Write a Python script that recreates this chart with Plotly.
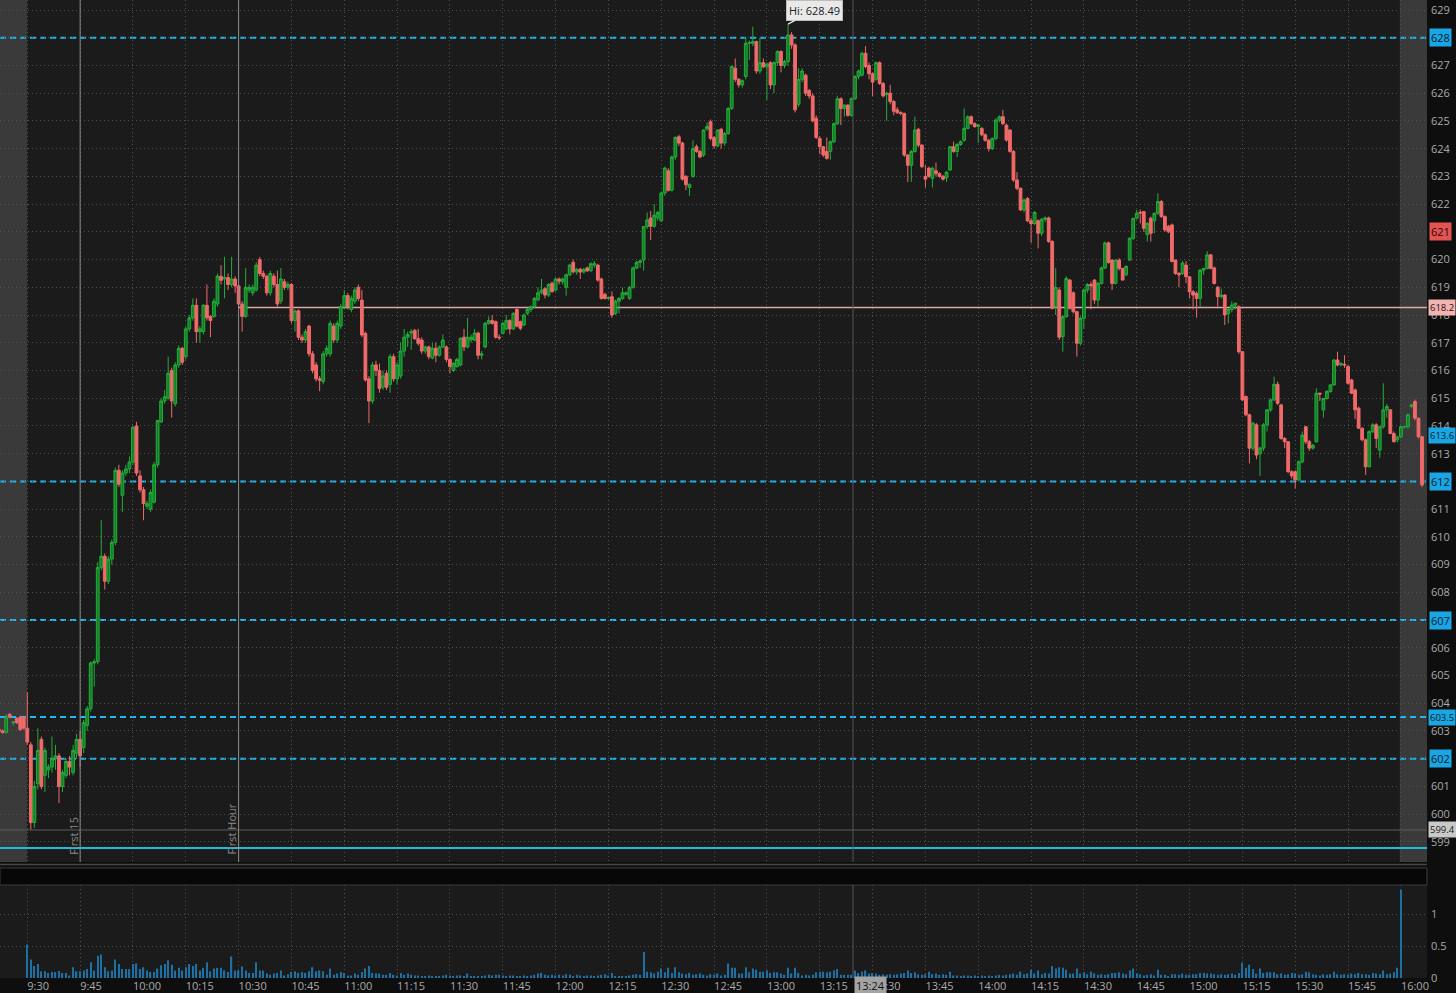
import plotly.graph_objects as go

W, H = 1456, 993

# ---------------- DATA (1-minute bars: open, high, low, close) ----------------
bars_pre = [  # 9:22 - 9:29 (extended hours)
    (603.05, 603.10, 602.95, 603.00), (603.00, 603.05, 602.90, 602.95),
    (602.95, 603.60, 602.90, 603.50), (603.60, 603.65, 603.45, 603.50),
    (603.30, 603.35, 603.20, 603.32), (603.45, 603.50, 603.25, 603.30),
    (603.50, 603.55, 603.00, 603.05), (603.50, 603.55, 603.05, 603.10),
]
bars_0930 = [
    (603.1, 604.4, 602.5, 602.6), (602.5, 602.6, 599.45, 599.7), (599.7, 601.2, 599.5, 601.0),
    (601.1, 603.1, 600.9, 602.3), (602.7, 602.8, 600.9, 601.0), (601.4, 602.4, 600.8, 602.3),
    (601.6, 601.8, 601.3, 601.7), (601.7, 602.8, 601.5, 602.0), (602.0, 602.5, 601.6, 602.1),
    (602.1, 602.2, 600.4, 601.0), (601.0, 601.6, 600.8, 601.5), (601.4, 602.0, 601.3, 601.9),
    (601.9, 602.1, 601.4, 601.7), (601.5, 602.5, 601.4, 602.3), (602.2, 602.9, 602.0, 602.7),
    (602.7, 603.0, 601.7, 602.1), (602.4, 603.4, 602.2, 603.3), (603.2, 603.9, 603.0, 603.8),
    (603.8, 605.5, 603.7, 605.45), (605.45, 605.6, 604.6, 605.5), (605.5, 609.1, 605.4, 608.9),
    (608.9, 610.6, 608.8, 609.3), (609.3, 609.4, 608.1, 608.4), (608.4, 609.3, 608.3, 609.2),
    (609.2, 609.9, 609.0, 609.8), (609.8, 612.5, 609.7, 612.4), (612.4, 612.6, 611.8, 611.9),
    (611.5, 612.4, 610.9, 612.3), (612.3, 612.6, 612.2, 612.45), (612.45, 612.9, 612.3, 612.7),
    (612.7, 614.0, 612.6, 613.95), (614.0, 614.15, 612.2, 612.3), (612.2, 612.4, 611.6, 611.7),
    (611.7, 611.8, 610.6, 611.2), (611.1, 611.3, 611.0, 611.2), (611.0, 611.7, 610.9, 611.6),
    (611.25, 612.7, 611.2, 612.6), (612.6, 614.2, 612.5, 614.2), (614.15, 615.0, 614.1, 614.9),
    (614.9, 615.3, 614.8, 615.05), (615.0, 616.5, 614.95, 615.9), (616.0, 616.1, 614.3, 614.9),
    (614.8, 616.3, 614.7, 616.2), (616.2, 616.9, 616.1, 616.8), (616.8, 616.85, 616.2, 616.3),
    (616.5, 617.6, 616.4, 617.5), (617.5, 618.0, 617.4, 617.9), (617.9, 618.6, 617.8, 618.35),
    (618.35, 618.6, 617.0, 617.4), (617.4, 617.6, 617.0, 617.5), (617.4, 618.4, 617.3, 618.35),
    (618.35, 619.1, 617.8, 617.9), (617.95, 618.0, 617.2, 617.8), (617.95, 618.6, 617.9, 618.5),
    (618.4, 619.5, 618.3, 619.4), (619.4, 619.8, 619.1, 619.25), (619.3, 620.1, 618.6, 619.35),
    (619.35, 619.5, 618.9, 619.1), (619.1, 620.1, 619.0, 619.3), (619.3, 619.4, 618.8, 619.05),
]
bars_1030 = [
    (619.05, 619.1, 618.3, 618.4), (618.4, 618.5, 617.4, 617.95), (617.95, 619.7, 617.9, 619.0),
    (618.9, 619.1, 618.8, 619.0), (618.8, 619.1, 618.7, 619.0), (618.9, 619.9, 618.85, 619.8),
    (620.0, 620.1, 619.4, 619.5), (619.5, 619.6, 619.3, 619.4), (619.4, 619.45, 618.7, 618.8),
    (618.8, 619.6, 618.7, 619.5), (619.4, 619.5, 619.0, 619.1), (619.1, 619.6, 618.3, 618.4),
    (618.5, 619.7, 618.4, 619.3), (619.2, 619.3, 618.9, 619.0), (619.0, 619.2, 618.9, 619.1),
    (619.1, 619.15, 617.7, 617.8), (617.8, 618.2, 617.4, 618.15), (618.15, 618.2, 617.1, 617.2),
    (617.2, 617.3, 617.0, 617.1), (617.1, 617.5, 617.0, 617.4), (617.6, 617.65, 616.5, 616.6),
    (616.6, 616.7, 615.9, 616.0), (616.2, 616.3, 615.6, 615.7), (615.7, 615.8, 615.25, 615.65),
    (615.6, 616.7, 615.5, 616.6), (616.6, 616.9, 616.5, 616.8), (616.6, 617.8, 616.5, 617.7),
    (617.6, 617.7, 617.0, 617.1), (617.1, 617.8, 617.0, 617.7), (617.6, 618.4, 617.5, 618.3),
    (618.3, 618.9, 618.2, 618.7), (618.7, 618.8, 618.2, 618.3), (618.2, 618.7, 618.1, 618.6),
    (618.5, 619.0, 618.4, 618.9), (619.0, 619.1, 618.5, 618.6), (618.54, 618.9, 617.2, 617.28),
    (617.34, 617.4, 615.6, 615.66), (615.7, 615.8, 614.1, 614.9), (614.9, 616.3, 614.8, 616.2),
    (616.2, 616.35, 615.8, 616.0), (616.0, 616.25, 615.2, 615.35), (615.4, 616.0, 615.3, 615.8),
    (615.9, 616.0, 615.3, 615.4), (615.5, 616.6, 615.2, 616.5), (616.5, 616.6, 615.6, 615.7),
    (615.7, 616.3, 615.5, 616.2), (615.8, 617.0, 615.7, 616.7), (616.7, 617.5, 616.5, 617.2),
    (617.2, 617.4, 616.85, 617.3), (617.35, 617.5, 616.75, 617.4), (617.45, 617.5, 617.1, 617.15),
    (617.15, 617.5, 616.9, 616.98), (617.1, 617.2, 616.6, 616.7), (616.7, 616.9, 616.6, 616.85),
    (616.85, 616.9, 616.4, 616.5), (616.45, 617.0, 616.4, 616.8), (616.8, 617.0, 616.3, 616.55),
    (616.55, 616.9, 616.5, 616.85), (616.85, 617.3, 616.8, 617.1), (616.85, 616.9, 616.3, 616.4),
]
bars_1130 = [
    (616.4, 616.45, 615.9, 616.14), (616.0, 616.3, 615.95, 616.26), (616.14, 616.45, 616.1, 616.4),
    (616.2, 617.2, 616.15, 617.16), (617.2, 617.5, 616.7, 616.85), (616.85, 617.9, 616.8, 617.2),
    (617.1, 617.3, 617.0, 617.2), (617.1, 617.5, 617.05, 617.35), (617.35, 617.4, 616.4, 616.55),
    (616.55, 616.7, 616.4, 616.6), (616.85, 617.75, 616.8, 617.7), (617.7, 617.95, 617.65, 617.8),
    (617.8, 618.0, 617.65, 617.7), (617.76, 617.8, 617.15, 617.2), (617.2, 617.3, 617.1, 617.18),
    (617.34, 617.75, 617.3, 617.7), (617.5, 618.0, 617.45, 617.8), (617.8, 617.85, 617.3, 617.5),
    (617.5, 618.1, 617.45, 618.06), (618.2, 618.3, 617.55, 617.6), (617.76, 617.8, 617.45, 617.52),
    (617.64, 618.05, 617.6, 618.0), (618.06, 618.25, 618.0, 618.2), (618.2, 618.35, 618.1, 618.3),
    (618.3, 618.65, 618.25, 618.6), (618.55, 619.0, 618.5, 618.8), (618.8, 619.3, 618.75, 618.9),
    (618.95, 619.0, 618.6, 618.72), (618.72, 619.15, 618.65, 619.1), (619.15, 619.2, 618.8, 618.85),
    (618.9, 619.35, 618.85, 619.3), (619.3, 619.35, 619.1, 619.22), (619.2, 619.35, 619.1, 619.3),
    (619.0, 619.5, 618.7, 619.45), (619.45, 619.85, 619.4, 619.8), (619.9, 620.0, 619.5, 619.56),
    (619.55, 619.7, 619.45, 619.65), (619.65, 619.7, 619.3, 619.55), (619.55, 619.7, 619.5, 619.65),
    (619.7, 619.75, 619.55, 619.6), (619.6, 619.9, 619.55, 619.85), (619.8, 619.95, 619.7, 619.85),
    (619.8, 619.85, 619.2, 619.26), (619.3, 619.35, 618.55, 618.6), (618.75, 618.8, 618.55, 618.6),
    (618.6, 618.65, 618.55, 618.63), (618.66, 618.85, 617.9, 618.0), (618.06, 618.55, 618.0, 618.5),
    (618.5, 618.65, 618.05, 618.6), (618.6, 619.0, 618.55, 618.8), (618.75, 618.85, 618.7, 618.8),
    (618.6, 619.05, 618.55, 619.0), (619.0, 619.75, 618.95, 619.7), (619.7, 619.95, 619.65, 619.9),
    (619.9, 620.0, 619.7, 619.95), (619.98, 621.2, 619.6, 621.19), (621.19, 621.7, 621.1, 621.43),
    (621.5, 621.75, 620.7, 621.2), (621.2, 622.0, 621.15, 621.6), (621.5, 621.75, 621.4, 621.7),
]
bars_1230 = [
    (621.4, 622.45, 621.35, 622.4), (622.4, 623.35, 622.3, 623.3), (623.2, 623.3, 622.45, 622.5),
    (622.5, 623.75, 622.45, 623.7), (623.7, 624.45, 623.6, 624.4), (624.43, 624.5, 624.1, 624.2),
    (624.2, 624.25, 622.85, 622.9), (623.0, 623.05, 622.5, 622.7), (622.6, 622.75, 622.3, 622.7),
    (623.0, 624.3, 622.95, 624.0), (624.07, 624.15, 623.85, 623.9), (623.9, 623.95, 623.65, 623.7),
    (623.77, 624.7, 623.7, 624.67), (624.7, 624.95, 624.65, 624.8), (624.97, 625.05, 624.3, 624.37),
    (624.4, 624.45, 624.0, 624.1), (624.1, 624.7, 624.05, 624.67), (624.7, 624.75, 624.0, 624.2),
    (624.2, 624.6, 624.1, 624.55), (624.55, 625.5, 624.5, 625.45), (625.45, 627.0, 625.4, 626.96),
    (626.9, 627.25, 626.4, 626.5), (626.5, 626.55, 626.2, 626.3), (626.3, 626.5, 626.2, 626.45),
    (626.6, 628.0, 626.5, 627.8), (627.8, 627.9, 627.2, 627.82), (627.8, 628.4, 627.7, 627.86),
    (627.86, 627.9, 626.7, 626.8), (626.8, 628.0, 626.7, 627.1), (627.1, 627.25, 626.9, 626.95),
    (626.95, 627.1, 625.75, 627.05), (627.1, 627.15, 626.15, 626.3), (626.3, 627.15, 626.0, 627.1),
    (627.1, 627.55, 627.0, 627.5), (627.5, 627.55, 626.75, 627.0), (627.0, 627.2, 626.9, 627.14),
    (627.14, 628.49, 627.0, 628.1), (628.1, 628.2, 627.6, 627.74), (627.74, 627.8, 625.3, 625.4),
    (625.6, 626.9, 625.5, 626.5), (626.5, 626.9, 626.4, 626.8), (626.65, 626.7, 625.9, 626.0),
    (626.1, 626.15, 625.8, 625.9), (625.9, 626.0, 624.95, 625.0), (625.1, 625.2, 624.35, 624.4),
    (624.37, 624.45, 623.8, 624.07), (624.07, 624.1, 623.7, 623.77), (623.9, 624.4, 623.6, 623.65),
    (623.9, 624.3, 623.6, 624.25), (624.25, 624.95, 624.2, 624.9), (624.9, 625.9, 624.85, 625.8),
    (625.8, 625.85, 624.85, 625.45), (625.45, 625.6, 625.15, 625.57), (625.57, 625.6, 625.15, 625.2),
    (625.2, 625.85, 625.15, 625.8), (625.8, 626.65, 625.75, 626.6), (626.6, 626.85, 626.5, 626.8),
    (626.65, 627.5, 626.6, 627.44), (627.44, 627.7, 626.9, 626.96), (627.0, 627.1, 626.5, 626.7),
]
bars_1330 = [
    (626.7, 626.75, 625.9, 626.4), (626.5, 627.15, 626.45, 627.1), (627.1, 627.15, 626.3, 626.35),
    (626.35, 626.4, 625.85, 625.9), (625.95, 626.05, 625.0, 626.0), (626.0, 626.3, 625.6, 625.7),
    (625.7, 625.75, 625.2, 625.35), (625.4, 625.5, 625.25, 625.3), (625.3, 625.35, 625.2, 625.27),
    (625.27, 625.3, 623.7, 623.77), (623.77, 623.8, 622.8, 623.4), (623.4, 623.95, 622.8, 623.9),
    (623.9, 625.15, 623.85, 624.67), (624.7, 624.75, 624.05, 624.13), (624.13, 624.15, 623.3, 623.35),
    (623.0, 623.4, 622.6, 622.9), (623.3, 623.35, 622.95, 623.0), (622.93, 623.35, 622.6, 623.29),
    (623.2, 623.5, 623.0, 623.1), (623.1, 623.15, 622.95, 623.0), (623.0, 623.05, 622.85, 622.9),
    (622.95, 623.2, 622.8, 623.15), (623.23, 624.1, 623.2, 624.07), (624.07, 624.25, 623.85, 623.9),
    (623.9, 624.2, 623.7, 624.15), (624.15, 624.3, 624.1, 624.25), (624.3, 625.45, 624.25, 624.73),
    (624.73, 625.2, 624.7, 625.15), (625.15, 625.2, 624.85, 624.9), (624.9, 624.95, 624.75, 624.8),
    (624.8, 624.85, 624.2, 624.86), (624.73, 624.78, 624.45, 624.5), (624.5, 624.55, 624.25, 624.3),
    (624.3, 624.35, 623.9, 624.0), (624.0, 624.4, 623.95, 624.37), (624.37, 625.1, 624.3, 625.03),
    (625.03, 625.2, 624.95, 625.15), (625.15, 625.4, 624.85, 624.9), (624.85, 624.9, 624.25, 624.31),
    (624.67, 624.7, 623.85, 623.9), (623.9, 623.95, 622.8, 622.87), (622.87, 623.15, 622.5, 622.57),
    (622.57, 622.6, 621.75, 621.79), (621.79, 622.2, 621.7, 622.15), (622.2, 622.25, 621.35, 621.4),
    (621.4, 621.5, 620.6, 621.3), (621.3, 621.75, 621.25, 621.7), (621.4, 621.45, 620.4, 620.95),
    (620.95, 621.5, 620.85, 621.45), (621.45, 621.55, 621.35, 621.5), (621.5, 621.55, 620.6, 620.65),
    (620.65, 620.7, 618.2, 618.24), (618.3, 619.7, 618.0, 619.0), (618.9, 619.0, 617.1, 617.2),
    (617.22, 618.0, 616.68, 617.94), (617.94, 619.4, 617.9, 619.32), (619.26, 619.3, 618.2, 618.24),
    (618.8, 618.85, 618.05, 618.12), (618.12, 618.15, 616.5, 616.98), (616.98, 617.95, 616.9, 617.88),
]
bars_1430 = [
    (617.88, 618.95, 617.5, 618.9), (618.9, 619.15, 618.8, 619.1), (619.1, 619.2, 618.2, 619.05),
    (619.26, 619.3, 618.4, 618.54), (618.54, 619.2, 618.3, 619.14), (619.14, 619.75, 619.1, 619.7),
    (619.7, 620.65, 619.65, 620.6), (620.6, 620.65, 619.85, 619.9), (619.98, 620.0, 618.9, 619.14),
    (619.14, 620.0, 619.1, 619.98), (619.98, 620.05, 619.6, 619.68), (619.68, 619.7, 619.25, 619.26),
    (619.45, 619.8, 619.4, 619.75), (619.98, 620.8, 619.95, 620.77), (620.77, 621.5, 620.7, 621.49),
    (621.49, 621.79, 621.45, 621.67), (621.7, 621.8, 621.3, 621.68), (621.73, 621.75, 621.0, 621.13),
    (620.9, 621.35, 620.65, 621.3), (621.49, 621.55, 620.65, 620.95), (621.4, 621.7, 620.95, 621.67),
    (621.67, 622.39, 621.6, 622.09), (622.09, 622.15, 621.5, 621.55), (621.55, 621.6, 621.0, 621.07),
    (621.2, 621.25, 620.95, 621.0), (621.25, 621.3, 619.9, 619.93), (619.98, 620.0, 619.45, 619.5),
    (619.5, 619.55, 619.0, 619.45), (619.5, 619.95, 619.45, 619.87), (619.8, 619.95, 619.15, 619.38),
    (619.38, 619.4, 618.6, 618.84), (618.84, 618.9, 618.2, 618.72), (618.78, 618.85, 617.9, 618.6),
    (618.6, 619.65, 618.3, 619.62), (619.62, 619.7, 619.45, 619.68), (619.68, 620.3, 619.65, 620.17),
    (620.17, 620.2, 619.65, 619.68), (619.7, 619.75, 619.1, 619.14), (619.0, 619.05, 618.3, 618.66),
    (618.66, 618.95, 618.6, 618.72), (618.72, 618.75, 617.64, 618.0), (618.05, 618.25, 617.7, 618.2),
    (618.2, 618.5, 618.1, 618.36), (618.36, 618.45, 618.2, 618.42), (618.3, 618.35, 616.6, 616.68),
    (616.68, 616.7, 614.9, 614.94), (615.06, 615.1, 614.35, 614.4), (614.4, 614.45, 612.65, 613.2),
    (613.2, 614.15, 613.1, 614.1), (614.04, 614.1, 612.8, 612.95), (613.0, 613.25, 612.2, 613.2),
    (613.2, 614.1, 613.1, 614.04), (614.04, 614.6, 613.8, 614.58), (614.58, 615.0, 614.5, 614.94),
    (614.94, 615.78, 614.9, 615.5), (615.5, 615.6, 614.75, 614.82), (614.76, 614.8, 613.5, 613.55),
    (613.55, 613.6, 613.2, 613.43), (613.43, 613.45, 612.3, 612.35), (612.35, 612.4, 612.1, 612.2),
]
bars_1530 = [
    (612.35, 612.4, 611.75, 612.05), (612.05, 612.75, 612.0, 612.71), (612.71, 613.8, 612.65, 613.67),
    (613.97, 614.0, 613.35, 613.43), (613.43, 613.5, 613.1, 613.2), (613.2, 613.35, 613.15, 613.3),
    (613.43, 615.36, 613.4, 615.18), (615.18, 615.2, 614.9, 615.15), (614.58, 615.0, 614.3, 614.99),
    (614.99, 615.3, 614.95, 615.24), (615.24, 615.5, 615.2, 615.48), (615.48, 616.4, 615.45, 616.38),
    (616.38, 616.68, 616.15, 616.2), (616.2, 616.3, 616.15, 616.25), (616.22, 616.55, 616.1, 616.2),
    (616.14, 616.2, 615.5, 615.54), (615.66, 615.7, 615.15, 615.18), (615.3, 615.35, 614.25, 614.58),
    (614.64, 614.7, 613.9, 613.92), (613.92, 613.95, 613.45, 613.5), (613.5, 613.55, 612.23, 612.53),
    (612.53, 613.85, 612.5, 613.79), (613.79, 614.1, 613.75, 614.04), (614.04, 614.1, 613.2, 613.55),
    (613.13, 614.0, 612.85, 613.97), (613.97, 615.54, 613.9, 614.58), (614.58, 614.8, 614.3, 614.7),
    (614.58, 614.6, 613.7, 613.73), (613.73, 613.8, 613.4, 613.43), (613.5, 613.65, 613.4, 613.6),
]
bars_post = [  # 16:00 - 16:06 (extended hours)
    (613.61, 614.0, 613.55, 613.97), (613.97, 614.0, 613.9, 613.98), (613.97, 614.45, 613.9, 614.4),
    (614.7, 614.8, 614.65, 614.76), (614.88, 614.95, 614.2, 614.28), (614.28, 614.3, 613.55, 613.61),
    (613.61, 613.65, 611.8, 611.87),
]

# volume (millions) per minute, regular session
vol_0930 = [0.53, 0.29, 0.19, 0.22, 0.105, 0.105, 0.08, 0.095, 0.095, 0.11,
            0.08, 0.08, 0.04, 0.17, 0.105, 0.105, 0.12, 0.14, 0.25, 0.12,
            0.35, 0.37, 0.17, 0.105, 0.12, 0.29, 0.22, 0.14, 0.14, 0.14,
            0.22, 0.23, 0.14, 0.17, 0.12, 0.095, 0.095, 0.15, 0.2, 0.22,
            0.28, 0.21, 0.12, 0.16, 0.12, 0.17, 0.22, 0.19, 0.22, 0.12,
            0.16, 0.25, 0.105, 0.15, 0.16, 0.16, 0.12, 0.095, 0.34, 0.12]
vol_1030 = [0.12, 0.18, 0.12, 0.08, 0.08, 0.25, 0.12, 0.12, 0.07, 0.05,
            0.07, 0.08, 0.12, 0.04, 0.06, 0.095, 0.105, 0.08, 0.095, 0.08,
            0.105, 0.17, 0.105, 0.12, 0.105, 0.05, 0.15, 0.05, 0.07, 0.095,
            0.08, 0.04, 0.04, 0.07, 0.05, 0.095, 0.15, 0.19, 0.08, 0.07,
            0.07, 0.05, 0.05, 0.08, 0.05, 0.04, 0.08, 0.05, 0.07, 0.05,
            0.04, 0.04, 0.03, 0.03, 0.04, 0.03, 0.02, 0.03, 0.04, 0.05]
vol_1130 = [0.04, 0.03, 0.04, 0.04, 0.03, 0.07, 0.03, 0.02, 0.03, 0.03,
            0.04, 0.05, 0.04, 0.05, 0.05, 0.04, 0.03, 0.04, 0.04, 0.03,
            0.03, 0.04, 0.03, 0.04, 0.05, 0.07, 0.08, 0.05, 0.04, 0.05,
            0.04, 0.05, 0.04, 0.06, 0.05, 0.03, 0.05, 0.04, 0.03, 0.04,
            0.04, 0.03, 0.04, 0.05, 0.06, 0.04, 0.08, 0.03, 0.03, 0.03,
            0.03, 0.04, 0.05, 0.06, 0.05, 0.41, 0.1, 0.09, 0.07, 0.1]
vol_1230 = [0.15, 0.09, 0.16, 0.08, 0.17, 0.09, 0.07, 0.06, 0.08, 0.05,
            0.06, 0.07, 0.05, 0.04, 0.06, 0.05, 0.07, 0.04, 0.05, 0.23,
            0.16, 0.16, 0.07, 0.07, 0.17, 0.09, 0.15, 0.13, 0.1, 0.1,
            0.12, 0.08, 0.09, 0.09, 0.07, 0.05, 0.16, 0.07, 0.16, 0.08,
            0.04, 0.05, 0.04, 0.05, 0.09, 0.1, 0.1, 0.09, 0.1, 0.12,
            0.14, 0.05, 0.05, 0.05, 0.05, 0.12, 0.08, 0.1, 0.12, 0.07]
vol_1330 = [0.08, 0.07, 0.05, 0.06, 0.05, 0.06, 0.05, 0.06, 0.07, 0.08,
            0.12, 0.08, 0.09, 0.06, 0.05, 0.06, 0.1, 0.06, 0.07, 0.05,
            0.06, 0.05, 0.1, 0.04, 0.04, 0.03, 0.04, 0.04, 0.03, 0.04,
            0.03, 0.04, 0.03, 0.04, 0.03, 0.04, 0.05, 0.04, 0.05, 0.06,
            0.07, 0.05, 0.1, 0.06, 0.07, 0.13, 0.07, 0.12, 0.06, 0.08,
            0.07, 0.19, 0.15, 0.17, 0.16, 0.13, 0.07, 0.07, 0.15, 0.07]
vol_1430 = [0.09, 0.06, 0.1, 0.07, 0.05, 0.06, 0.05, 0.06, 0.08, 0.08,
            0.09, 0.07, 0.06, 0.12, 0.15, 0.07, 0.06, 0.04, 0.05, 0.06,
            0.04, 0.13, 0.05, 0.05, 0.03, 0.06, 0.06, 0.05, 0.07, 0.05,
            0.05, 0.06, 0.06, 0.08, 0.08, 0.07, 0.07, 0.06, 0.05, 0.06,
            0.05, 0.06, 0.07, 0.05, 0.08, 0.24, 0.16, 0.21, 0.14, 0.07,
            0.15, 0.08, 0.09, 0.09, 0.09, 0.06, 0.07, 0.05, 0.06, 0.08]
vol_1530 = [0.07, 0.05, 0.06, 0.1, 0.09, 0.06, 0.05, 0.04, 0.06, 0.05,
            0.06, 0.1, 0.06, 0.05, 0.06, 0.05, 0.07, 0.06, 0.08, 0.06,
            0.06, 0.05, 0.08, 0.07, 0.06, 0.12, 0.06, 0.07, 0.09, 0.16]
vol_close = [1.39]  # 16:00 print

time_labels = ["9:30", "9:45", "10:00", "10:15", "10:30", "10:45", "11:00", "11:15",
               "11:30", "11:45", "12:00", "12:15", "12:30", "12:45", "13:00", "13:15",
               "13:30", "13:45", "14:00", "14:15", "14:30", "14:45", "15:00", "15:15",
               "15:30", "15:45", "16:00"]

dashed_levels = [628, 612, 607, 603.5, 602]
first_hour_high_line = 618.27
day_low = 599.43
cyan_level = 598.78
day_high = 628.49
price_ticks = list(range(599, 630))
hidden_tick_prices = [602, 607, 612, 621, 628]
level_boxes = [  # price, label, bg, fg
    (628, "628", "#1aa6e4", "#061a26"),
    (621, "621", "#e25353", "#2a0606"),
    (618.27, "618.2", "#f2b3b3", "#2a1212"),
    (613.67, "613.6", "#1aa6e4", "#061a26"),
    (612, "612", "#1aa6e4", "#061a26"),
    (607, "607", "#1aa6e4", "#061a26"),
    (603.5, "603.5", "#1aa6e4", "#061a26"),
    (602, "602", "#1aa6e4", "#061a26"),
    (599.43, "599.4", "#c9c9c9", "#1a1a1a"),
]

# ---------------- BUILD ----------------
blocks = [(-8, bars_pre), (0, bars_0930), (60, bars_1030), (120, bars_1130),
          (180, bars_1230), (240, bars_1330), (300, bars_1430), (360, bars_1530),
          (390, bars_post)]
xs, o, h, l, c = [], [], [], [], []
for start, rows in blocks:
    for k, (a, b, d, e) in enumerate(rows):
        xs.append(start + k); o.append(a); h.append(b); l.append(d); c.append(e)

vblocks = [(0, vol_0930), (60, vol_1030), (120, vol_1130), (180, vol_1230),
           (240, vol_1330), (300, vol_1430), (360, vol_1530), (390, vol_close)]
vx, vy = [], []
for start, rows in vblocks:
    for k, v in enumerate(rows):
        vx.append(start + k); vy.append(v)

tick_idx = [15 * k for k in range(len(time_labels))]

# pixel geometry
PX_PER_MIN = 3.522
X_ORIGIN = 27.3          # pixel of 9:30
PLOT_R = 1427
X0 = -X_ORIGIN / PX_PER_MIN
X1 = (PLOT_R - X_ORIGIN) / PX_PER_MIN
PX_PER_DOLLAR = 27.73
Y_TOP = 629 + 10 / PX_PER_DOLLAR
Y_BOT = 629 - 852 / PX_PER_DOLLAR
PRICE_BOTTOM_PX = 862
VOL_TOP_PX, VOL_BOT_PX = 885, 978
VOL_MAX = (VOL_BOT_PX - VOL_TOP_PX) / 63.4


def py(p):
    return 1 - p / H


fig = go.Figure()
fig.add_trace(go.Candlestick(
    x=xs, open=o, high=h, low=l, close=c, xaxis="x", yaxis="y",
    increasing=dict(line=dict(color="#23ad3c", width=1), fillcolor="#148024"),
    decreasing=dict(line=dict(color="#f06a6a", width=1), fillcolor="#f06a6a"),
    whiskerwidth=0, hoverinfo="skip", showlegend=False,
))
fig.add_trace(go.Bar(
    x=vx, y=vy, xaxis="x2", yaxis="y2", width=0.36,
    marker=dict(color="#1d6fa4", line=dict(width=0)), hoverinfo="skip", showlegend=False,
))

grid = dict(showgrid=True, gridcolor="#505050", griddash="1px,3px", gridwidth=1, zeroline=False,
            showline=False, ticks="", fixedrange=True)
fig.update_layout(
    width=W, height=H, margin=dict(l=0, r=0, t=0, b=0, autoexpand=False),
    paper_bgcolor="#0e0e0e", plot_bgcolor="#1b1b1b", showlegend=False, hovermode=False,
    boxgap=0.12, boxgroupgap=0.1,
    font=dict(family="Open Sans, DejaVu Sans, sans-serif", size=11, color="#ababab"),
    xaxis=dict(domain=[0, PLOT_R / W], range=[X0, X1], tickvals=tick_idx, showticklabels=False,
               rangeslider=dict(visible=False), anchor="y", **grid),
    yaxis=dict(domain=[py(PRICE_BOTTOM_PX), 1], range=[Y_BOT, Y_TOP], side="right", anchor="x",
               tickvals=price_ticks, ticklabelstandoff=3,
               ticktext=["" if p in hidden_tick_prices else str(p) for p in price_ticks],
               **grid),
    xaxis2=dict(domain=[0, PLOT_R / W], range=[X0, X1], tickvals=tick_idx, ticktext=time_labels,
                ticklabelposition="outside right", anchor="y2", ticklabelstandoff=0, **grid),
    yaxis2=dict(domain=[py(VOL_BOT_PX), py(VOL_TOP_PX)], range=[0, VOL_MAX], side="right",
                anchor="x2", tickvals=[0, 0.5, 1], ticktext=["0", "0.5", "1"],
                ticklabelstandoff=3, **grid),
)

shapes = []
# extended-hours shading
shapes.append(dict(type="rect", xref="x", yref="paper", x0=X0, x1=-0.1, y0=py(PRICE_BOTTOM_PX), y1=1,
                   fillcolor="#3a3a3a", line=dict(width=0), layer="below"))
shapes.append(dict(type="rect", xref="x", yref="paper", x0=389.7, x1=X1, y0=py(PRICE_BOTTOM_PX), y1=1,
                   fillcolor="#3a3a3a", line=dict(width=0), layer="below"))
# separator band between panels
shapes.append(dict(type="line", xref="paper", yref="paper", x0=0, x1=PLOT_R / W,
                   y0=py(864.5), y1=py(864.5), line=dict(color="#474747", width=1.5)))
shapes.append(dict(type="rect", xref="paper", yref="paper", x0=0, x1=PLOT_R / W,
                   y0=py(885), y1=py(868), fillcolor="#070707", line=dict(color="#3c3c3c", width=1)))
# horizontal levels
for lv in dashed_levels:
    shapes.append(dict(type="line", xref="paper", yref="y", x0=0, x1=PLOT_R / W, y0=lv, y1=lv,
                       line=dict(color="#1fb8f0", width=2, dash="6px,4px"), layer="between"))
shapes.append(dict(type="line", xref="paper", yref="y", x0=0, x1=PLOT_R / W, y0=cyan_level, y1=cyan_level,
                   line=dict(color="#1cbce9", width=2)))
shapes.append(dict(type="line", xref="paper", yref="y", x0=0, x1=PLOT_R / W, y0=day_low, y1=day_low,
                   line=dict(color="#5e5e5e", width=1), layer="between"))
shapes.append(dict(type="line", xref="x", yref="y", x0=60, x1=X1, y0=first_hour_high_line,
                   y1=first_hour_high_line, line=dict(color="#e2a6a6", width=1.5), layer="between"))
# vertical markers
for xv in (15, 60):
    shapes.append(dict(type="line", xref="x", yref="paper", x0=xv, x1=xv, y0=py(PRICE_BOTTOM_PX), y1=1,
                       line=dict(color="#8d8d8d", width=1)))
cross_x = 234.44
shapes.append(dict(type="line", xref="x", yref="paper", x0=cross_x, x1=cross_x,
                   y0=py(PRICE_BOTTOM_PX), y1=1, line=dict(color="#575757", width=1)))
shapes.append(dict(type="line", xref="x", yref="paper", x0=cross_x, x1=cross_x,
                   y0=py(VOL_BOT_PX), y1=py(VOL_TOP_PX), line=dict(color="#575757", width=1)))
fig.update_layout(shapes=shapes)

ann = []
for price, txt, bg, fg in level_boxes:
    long_label = len(txt) > 3
    ann.append(dict(xref="paper", yref="y", x=(1428 if long_label else 1429) / W, y=price, text=txt,
                    showarrow=False, xanchor="left", yanchor="middle", bgcolor=bg, borderpad=1,
                    font=dict(color=fg, size=9.5 if long_label else 11)))
ann.append(dict(xref="x", yref="y", x=216, y=day_high, text="Hi: 628.49", showarrow=True,
                arrowhead=0, arrowwidth=1.2, arrowcolor="#e6e6e6", ax=26, ay=-14,
                bgcolor="#e9e9e9", bordercolor="#bdbdbd", borderwidth=1, borderpad=2,
                font=dict(color="#222222", size=11)))
for xv, txt in ((15, "First 15"), (60, "First Hour")):
    ann.append(dict(xref="x", yref="paper", x=xv, y=py(857), text=txt, textangle=-90,
                    showarrow=False, xanchor="right", yanchor="bottom", xshift=2,
                    font=dict(color="#8a8a8a", size=11)))
ann.append(dict(xref="x", yref="paper", x=cross_x, y=py(985), text="13:24", showarrow=False,
                xanchor="left", yanchor="middle", bgcolor="#a3a3a3", borderpad=1, xshift=1,
                font=dict(color="#111111", size=11)))
fig.update_layout(annotations=ann)

fig.write_html("out.html", config={"displayModeBar": False},
               post_script="document.body.style.margin='0';document.body.style.overflow='hidden';")
